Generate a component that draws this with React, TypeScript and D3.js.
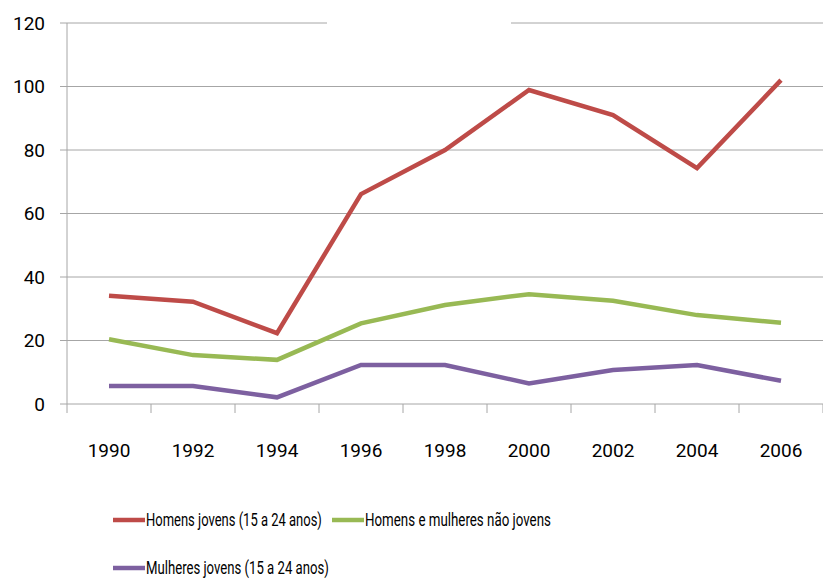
import React, { useEffect, useRef } from 'react';
import * as d3 from 'd3';

const years = ['1990', '1992', '1994', '1996', '1998', '2000', '2002', '2004', '2006'];
const homensJovens = [34.1, 32.2, 22.3, 66.1, 80, 98.9, 91, 74.3, 102];
const naoJovens = [20.4, 15.4, 13.9, 25.4, 31.2, 34.6, 32.5, 28, 25.6];
const mulheresJovens = [5.7, 5.7, 2.1, 12.3, 12.3, 6.5, 10.7, 12.3, 7.3];
const yTicks = [0, 20, 40, 60, 80, 100, 120];

const series = [
  { name: 'Homens jovens (15 a 24 anos)', values: homensJovens, color: '#BE4B48' },
  { name: 'Homens e mulheres não jovens', values: naoJovens, color: '#98B954' },
  { name: 'Mulheres jovens (15 a 24 anos)', values: mulheresJovens, color: '#7D60A0' },
];

const width = 823;
const height = 579;
const margin = { top: 23, right: 0, bottom: 175, left: 67 };
const font = 'Roboto, "Open Sans", sans-serif';
const gridColor = '#A6A6A6';

const App = () => {
  const ref = useRef<SVGSVGElement | null>(null);

  useEffect(() => {
    if (!ref.current) return;
    const svg = d3.select(ref.current);
    svg.selectAll('*').remove();

    const x = d3.scaleBand().domain(years).range([margin.left, width - margin.right]);
    const y = d3.scaleLinear().domain([0, 120]).range([height - margin.bottom, margin.top]);

    // horizontal gridlines (top one is interrupted, as in the original)
    yTicks.forEach(t => {
      if (t === 0) return;
      const segs = t === 120 ? [[60, 327], [511, width]] : [[60, width]];
      segs.forEach(([a, b]) => {
        svg.append('line').attr('x1', a).attr('x2', b).attr('y1', y(t)).attr('y2', y(t))
          .attr('stroke', gridColor).attr('stroke-width', 1);
      });
    });

    // y axis
    svg.append('line').attr('x1', margin.left).attr('x2', margin.left)
      .attr('y1', y(120)).attr('y2', y(0)).attr('stroke', gridColor);
    svg.selectAll('.ylab').data(yTicks).enter().append('text')
      .attr('x', 45).attr('y', d => y(d)).attr('dy', '0.35em')
      .attr('text-anchor', 'end').attr('font-family', font).attr('font-size', 19)
      .attr('fill', '#000').text(d => d);

    // x axis
    svg.append('line').attr('x1', 60).attr('x2', width).attr('y1', y(0)).attr('y2', y(0))
      .attr('stroke', gridColor);
    const bounds = years.map(d => x(d) as number).concat([width - margin.right]);
    svg.selectAll('.xtick').data(bounds).enter().append('line')
      .attr('x1', d => d).attr('x2', d => d).attr('y1', y(0)).attr('y2', y(0) + 9)
      .attr('stroke', gridColor);
    svg.selectAll('.xlab').data(years).enter().append('text')
      .attr('x', d => (x(d) as number) + x.bandwidth() / 2).attr('y', 457)
      .attr('text-anchor', 'middle').attr('font-family', font).attr('font-size', 19)
      .attr('fill', '#000').text(d => d);

    // lines
    const line = d3.line<number>()
      .x((_, i) => (x(years[i]) as number) + x.bandwidth() / 2)
      .y(d => y(d));
    series.forEach(s => {
      svg.append('path').datum(s.values).attr('d', line).attr('fill', 'none')
        .attr('stroke', s.color).attr('stroke-width', 4.5).attr('stroke-linejoin', 'miter');
    });

    // legend - text squeezed horizontally to mimic the narrow original font
    const legend = [
      { s: series[0], x: 113, y: 520, len: 176 },
      { s: series[1], x: 332, y: 520, len: 186 },
      { s: series[2], x: 113, y: 568, len: 183 },
    ];
    legend.forEach(l => {
      svg.append('line').attr('x1', l.x).attr('x2', l.x + 32).attr('y1', l.y).attr('y2', l.y)
        .attr('stroke', l.s.color).attr('stroke-width', 4.5);
      const t = svg.append('text').attr('x', 0).attr('y', 0).attr('dy', '0.35em')
        .attr('font-family', font).attr('font-size', 18).attr('fill', '#000')
        .text(l.s.name);
      const natural = (t.node() as SVGTextElement).getComputedTextLength() || l.len;
      t.attr('transform', `translate(${l.x + 33},${l.y}) scale(${l.len / natural},1)`);
    });
  }, []);

  return (
    <svg ref={ref} width={width} height={height}
      style={{ position: 'absolute', left: 0, top: 0, background: '#fff' }} />
  );
};

export default App;
